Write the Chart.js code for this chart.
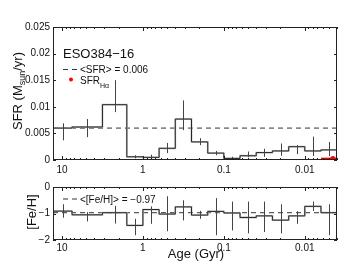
<!DOCTYPE html>
<html>
<head>
<meta charset="utf-8">
<script src="https://cdn.jsdelivr.net/npm/chart.js@4"></script>
<style>
body { margin: 0; background: #fff; width: 355px; height: 267px; overflow: hidden; position: relative; }
canvas { position: absolute; left: 0; }
#sfr { top: 0; }
#feh { top: 178px; }
</style>
</head>
<body>
<canvas id="sfr" width="355" height="178"></canvas>
<canvas id="feh" width="355" height="89"></canvas>
<script>
// age bin edges in Gyr, oldest first
let ageEdges = [12.9, 7.5, 3.16, 1.58, 1.0, 0.631, 0.398, 0.251, 0.158, 0.1, 0.0631, 0.0398, 0.0251, 0.0158, 0.01, 0.00631, 0.004]
let sfr   = [0.0060, 0.0062, 0.0104, 0.0006, 0.0005, 0.0022, 0.0077, 0.0034, 0.0013, 0.0003, 0.0008, 0.0014, 0.0017, 0.0025, 0.0017, 0.0019]
let sfrLo = [0.0037, 0.0043, 0.0090, 0.0003, 0.0001, 0.0013, 0.0056, 0.0028, 0.0009, 0.0000, 0.0005, 0.0006, 0.0008, 0.0011, 0.00075, 0.00075]
let sfrHi = [0.0069, 0.0077, 0.0150, 0.0009, 0.0010, 0.0032, 0.0112, 0.0041, 0.0017, 0.0006, 0.0016, 0.0021, 0.0031, 0.0028, 0.0044, 0.0034]
let feh   = [-0.91, -1.05, -0.97, -1.45, -0.85, -1.02, -0.75, -1.06, -0.92, -0.98, -1.15, -1.09, -1.25, -1.09, -0.73, -0.97]
let fehLo = [-1.16, -1.30, -1.38, -1.82, -1.39, -1.67, -1.26, -1.20, -1.82, -1.64, -1.75, -1.70, -1.75, -1.39, -0.91, -1.82]
let fehHi = [-0.65, -0.95, -0.71, -1.20, -0.73, -0.35, -0.50, -0.90, -0.42, -0.55, -0.55, -0.55, -0.65, -0.91, -0.55, -0.65]
let sfrMean = 0.006
let fehMean = -0.97
let haAge = 0.0045
let haSfr = 0.0003
let haRange = [0.0063, 0.004]
let ageTicks = [10, 1, 0.1, 0.01]

Chart.defaults.font.family = '"Liberation Sans", Arial, sans-serif'
Chart.defaults.color = '#111'

function steps(vals) {
  let pts = vals.map((v, i) => ({x: ageEdges[i], y: v}))
  pts.push({x: ageEdges[ageEdges.length - 1], y: vals[vals.length - 1]})
  return pts
}

function line(ctx, x1, y1, x2, y2) {
  ctx.beginPath(); ctx.moveTo(x1, y1); ctx.lineTo(x2, y2); ctx.stroke()
}

// frame, inward ticks and error bars
let framePlugin = {
  id: 'frame',
  afterDatasetsDraw(chart, args, opts) {
    let ctx = chart.ctx, a = chart.chartArea, x = chart.scales.x, y = chart.scales.y
    ctx.save()
    ctx.strokeStyle = '#444'
    ctx.lineWidth = 1
    for (let i = 0; i < opts.val.length; i++) {
      let px = Math.round(x.getPixelForValue(Math.sqrt(ageEdges[i] * ageEdges[i + 1]))) + 0.5
      line(ctx, px, y.getPixelForValue(opts.lo[i]), px, y.getPixelForValue(opts.hi[i]))
    }
    ctx.strokeStyle = '#222'
    ctx.strokeRect(a.left + 0.5, a.top + 0.5, a.right - a.left - 1, a.bottom - a.top - 1)
    for (let d = -3; d <= 1; d++) {
      for (let m = 1; m < 10; m++) {
        let v = m * Math.pow(10, d)
        if (v < x.min || v > x.max) continue
        let px = Math.round(x.getPixelForValue(v)) + 0.5
        let len = m == 1 ? 4 : 2
        line(ctx, px, a.bottom, px, a.bottom - len)
        line(ctx, px, a.top, px, a.top + len)
      }
    }
    y.ticks.forEach(t => {
      let py = Math.round(y.getPixelForValue(t.value)) + 0.5
      line(ctx, a.left, py, a.left + 3, py)
      line(ctx, a.right, py, a.right - 3, py)
    })
    ctx.restore()
  }
}

let textPlugin = {
  id: 'texts',
  afterDraw(chart, args, opts) {
    let ctx = chart.ctx
    ctx.save()
    ctx.fillStyle = '#111'
    ctx.textBaseline = 'alphabetic'
    opts.draw(ctx)
    ctx.restore()
  }
}

function dashSample(ctx, x, y) {
  ctx.strokeStyle = '#333'
  ctx.lineWidth = 1
  ctx.setLineDash([5, 4])
  line(ctx, x, y, x + 15, y)
  ctx.setLineDash([])
}

function xAxis(height, pad) {
  return {
    type: 'logarithmic',
    reverse: true,
    min: ageEdges[ageEdges.length - 1],
    max: ageEdges[0],
    grid: {display: false, drawTicks: false},
    border: {display: false},
    afterFit: s => { s.height = height },
    afterBuildTicks: s => { s.ticks = ageTicks.map(v => ({value: v})) },
    ticks: {
      padding: pad, autoSkip: false, maxRotation: 0,
      font: {size: 10},
      callback: v => String(v)
    }
  }
}

// first dataset is drawn on top in Chart.js
function histSets(vals, mean) {
  return [
    {data: steps(vals), stepped: true, borderColor: '#262626', borderWidth: 1, pointRadius: 0},
    {data: steps(vals), stepped: true, borderColor: '#bcbcbc', borderWidth: 1.8, pointRadius: 0},
    {data: [{x: ageEdges[0], y: mean}, {x: ageEdges[ageEdges.length - 1], y: mean}],
     borderColor: '#333', borderWidth: 1, borderDash: [5, 4], pointRadius: 0}
  ]
}

new Chart(document.querySelector('#sfr'), {
  type: 'line',
  data: {
    datasets: [
      {data: [{x: haAge, y: haSfr}], showLine: false, pointRadius: 2.5, pointBackgroundColor: '#f00', pointBorderWidth: 0},
      {data: haRange.map(a => ({x: a, y: haSfr})), borderColor: '#f00', borderWidth: 1.5, pointRadius: 0}
    ].concat(histSets(sfr, sfrMean))
  },
  options: {
    responsive: false,
    animation: false,
    layout: {padding: {top: 27, right: 18, left: 0, bottom: 0}},
    plugins: {
      legend: {display: false},
      tooltip: {enabled: false},
      frame: {val: sfr, lo: sfrLo, hi: sfrHi},
      texts: {draw: ctx => {
        ctx.font = '13px "Liberation Sans", Arial'
        ctx.fillText('ESO384\u221216', 63, 58)
        dashSample(ctx, 63, 69.5)
        ctx.font = '10px "Liberation Sans", Arial'
        ctx.fillText('<SFR> = 0.006', 80, 73)
        ctx.fillStyle = '#f00'
        ctx.beginPath(); ctx.arc(71, 79.5, 2, 0, 2 * Math.PI); ctx.fill()
        ctx.fillStyle = '#111'
        ctx.fillText('SFR', 80, 84)
        ctx.font = '7px "Liberation Sans", Arial'
        ctx.fillText('H\u03b1', 80 + 20, 88)
        // y title with subscript
        ctx.translate(22, 91)
        ctx.rotate(-Math.PI / 2)
        let p1 = 'SFR (M', p2 = 'sun', p3 = '/yr)'
        ctx.font = '13px "Liberation Sans", Arial'
        let w1 = ctx.measureText(p1).width, w3 = ctx.measureText(p3).width
        ctx.font = '9px "Liberation Sans", Arial'
        let w2 = ctx.measureText(p2).width
        let x0 = -(w1 + w2 + w3) / 2
        ctx.font = '13px "Liberation Sans", Arial'
        ctx.fillText(p1, x0, 0)
        ctx.fillText(p3, x0 + w1 + w2, 0)
        ctx.font = '9px "Liberation Sans", Arial'
        ctx.fillText(p2, x0 + w1, 3)
      }}
    },
    scales: {
      x: xAxis(18, 4),
      y: {
        min: 0, max: 0.025,
        grid: {display: false, drawTicks: false},
        border: {display: false},
        afterFit: s => { s.width = 53 },
        ticks: {stepSize: 0.005, padding: 3, font: {size: 10},
                callback: v => v == 0 ? '0' : String(+v.toFixed(3))}
      }
    }
  },
  plugins: [framePlugin, textPlugin]
})

new Chart(document.querySelector('#feh'), {
  type: 'line',
  data: {datasets: histSets(feh, fehMean)},
  options: {
    responsive: false,
    animation: false,
    layout: {padding: {top: 7, right: 18, left: 0, bottom: 0}},
    plugins: {
      legend: {display: false},
      tooltip: {enabled: false},
      frame: {val: feh, lo: fehLo, hi: fehHi},
      texts: {draw: ctx => {
        dashSample(ctx, 63, 21)
        ctx.font = '10px "Liberation Sans", Arial'
        ctx.fillText('<[Fe/H]> = \u22120.97', 80, 24.5)
        ctx.font = '13px "Liberation Sans", Arial'
        ctx.textAlign = 'center'
        ctx.fillText('Age (Gyr)', 196, 80)
        ctx.translate(36, 34)
        ctx.rotate(-Math.PI / 2)
        ctx.fillText('[Fe/H]', 0, 0)
      }}
    },
    scales: {
      x: xAxis(27, 2),
      y: {
        min: -2, max: 0,
        grid: {display: false, drawTicks: false},
        border: {display: false},
        afterFit: s => { s.width = 53 },
        ticks: {stepSize: 1, padding: 3, font: {size: 10},
                callback: v => v < 0 ? '\u2212' + Math.abs(v) : String(v)}
      }
    }
  },
  plugins: [framePlugin, textPlugin]
})
</script>
</body>
</html>
